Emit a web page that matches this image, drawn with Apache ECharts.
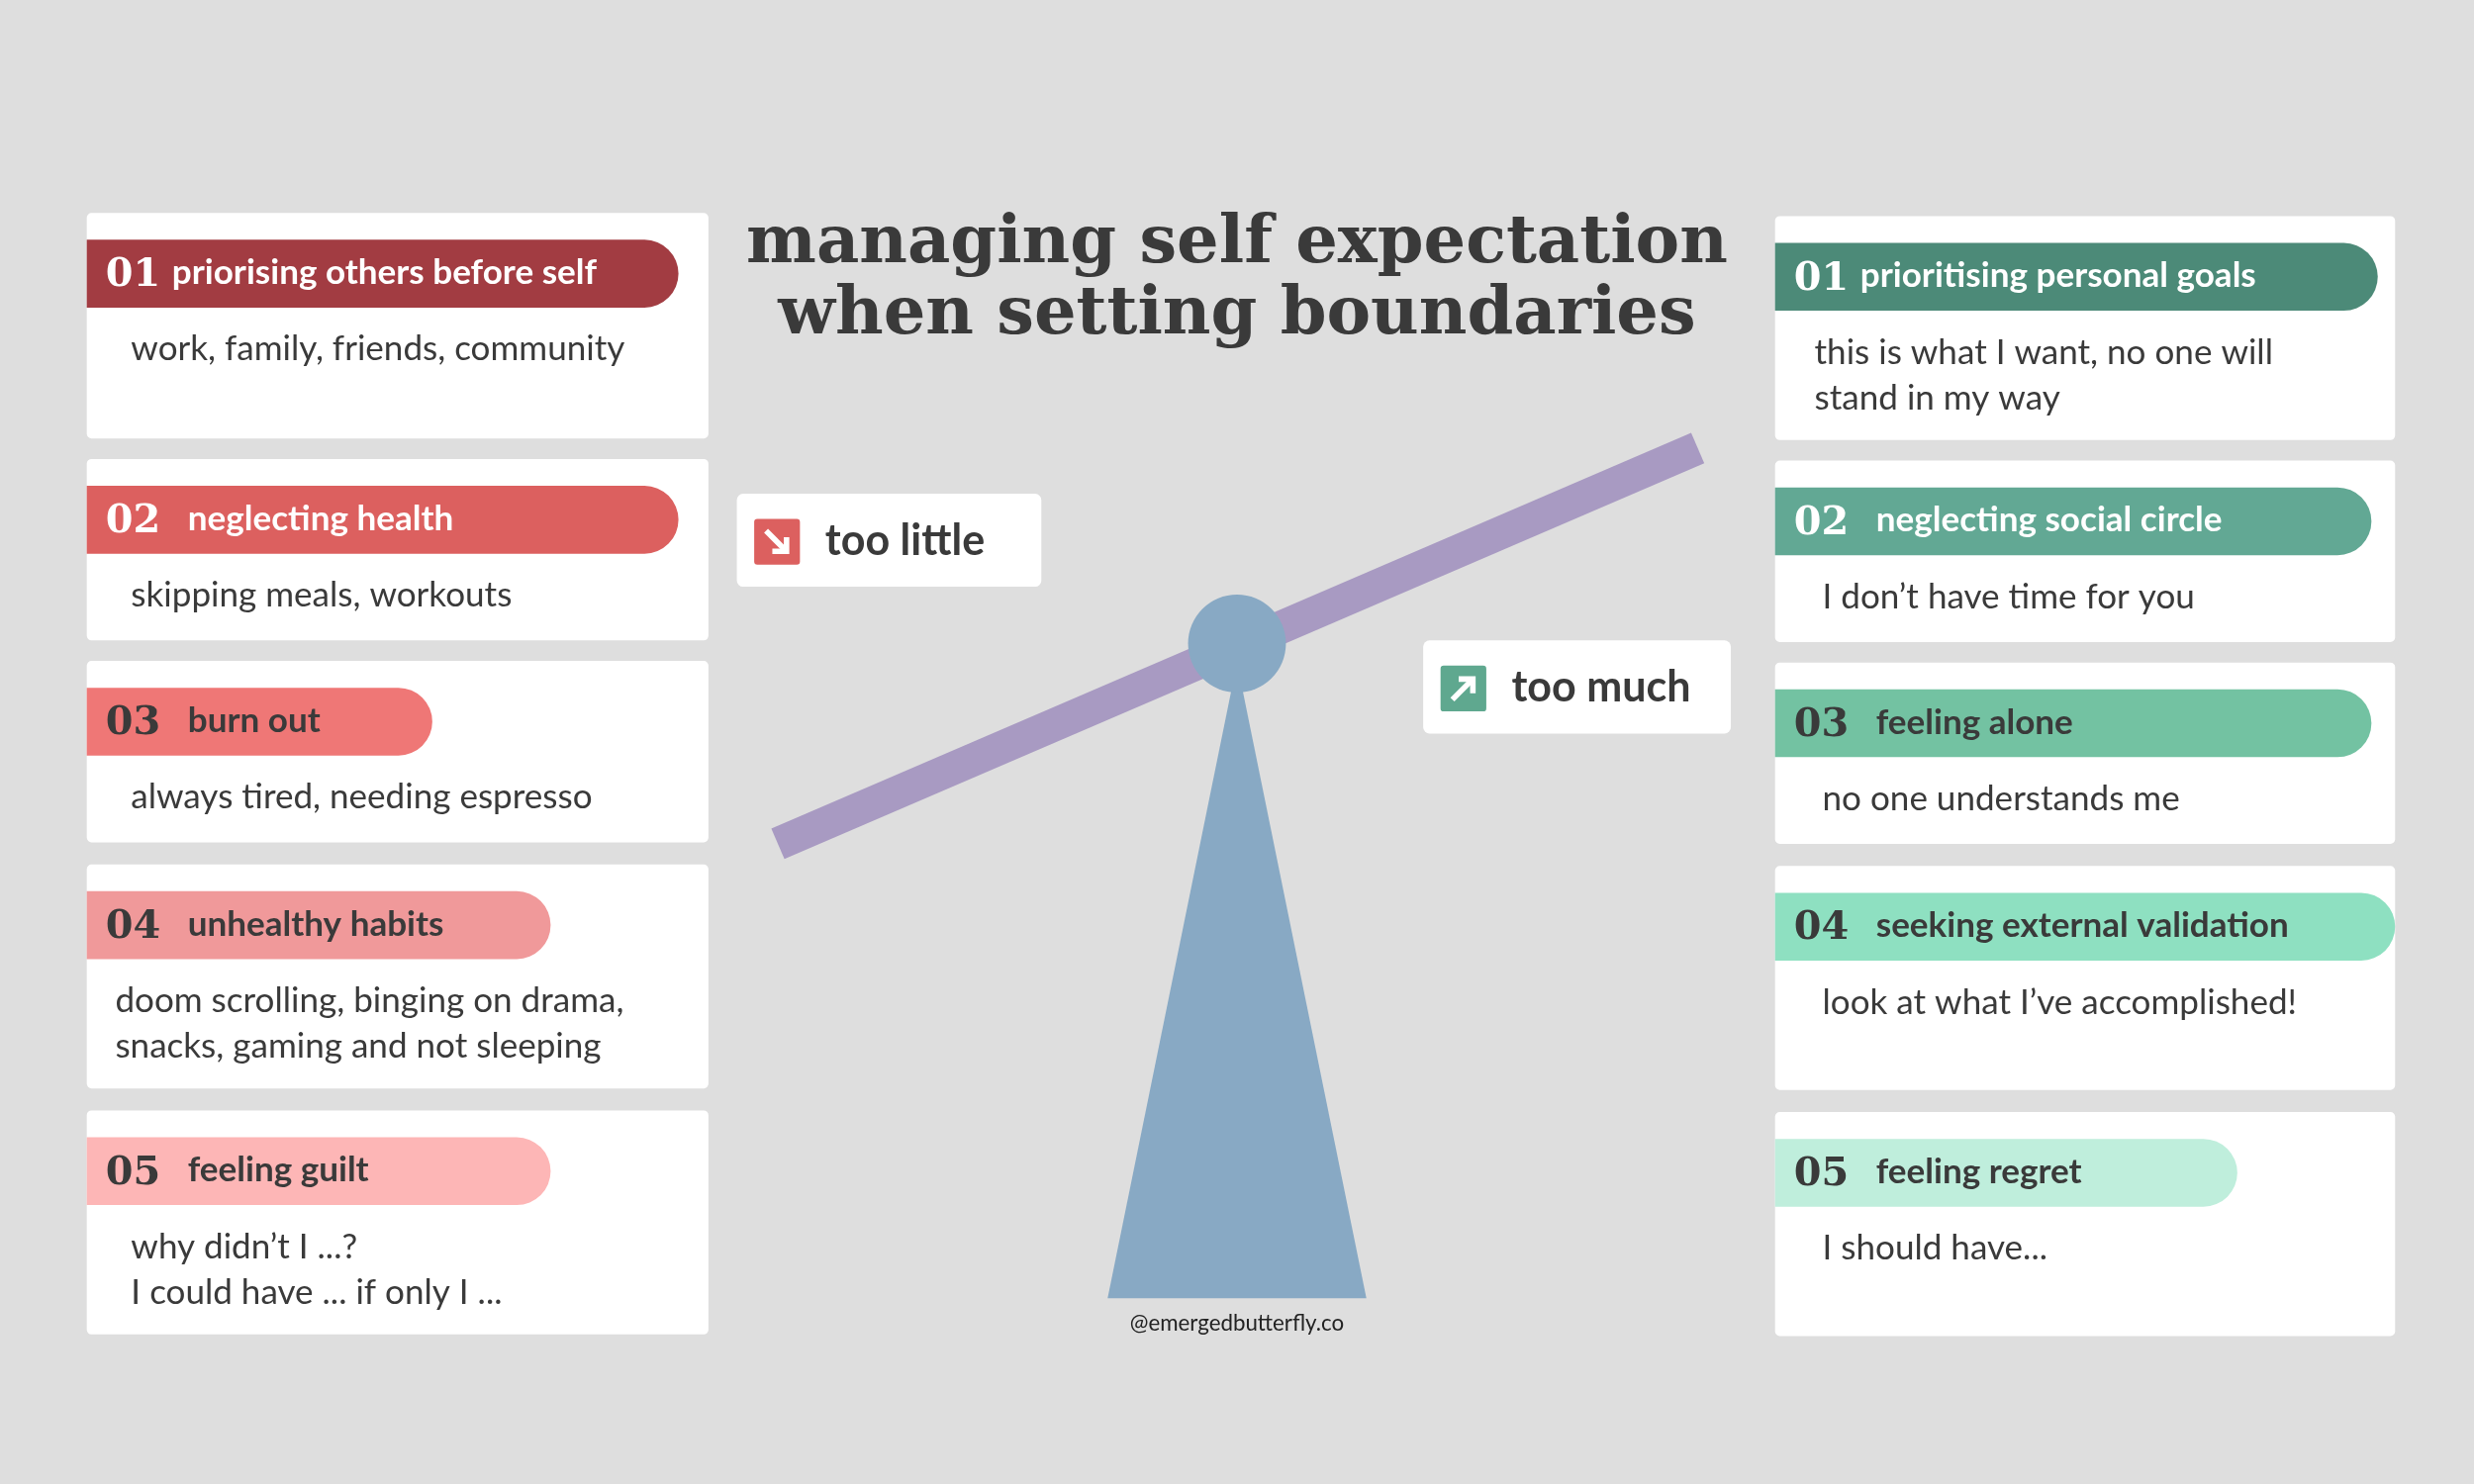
<!DOCTYPE html>
<html>
<head>
<meta charset="utf-8">
<script src="https://cdn.jsdelivr.net/npm/echarts@6/dist/echarts.min.js"></script>
<style>html,body{margin:0;padding:0;background:#dedede}#main{width:2500px;height:1500px}</style>
</head>
<body>
<div id="main"></div>
<script>
// layout was measured on a 1568px wide copy, scale up
var s = 2500 / 1568;

var leftNums = ['01', '02', '03', '04', '05'];
var leftTitles = ['priorising others before self', 'neglecting health', 'burn out', 'unhealthy habits', 'feeling guilt'];
var leftDescs = ['work, family, friends, community', 'skipping meals, workouts', 'always tired, needing espresso',
    'doom scrolling, binging on drama,\nsnacks, gaming and not sleeping', 'why didn\u2019t I ...?\nI could have ... if only I ...'];
var leftColors = ['#a23c42', '#dc605f', '#ef7776', '#f0999a', '#fdb6b6'];

var rightNums = ['01', '02', '03', '04', '05'];
var rightTitles = ['prioritising personal goals', 'neglecting social circle', 'feeling alone', 'seeking external validation', 'feeling regret'];
var rightDescs = ['this is what I want, no one will\nstand in my way', 'I don\u2019t have time for you', 'no one understands me',
    'look at what I\u2019ve accomplished!', 'I should have...'];
var rightColors = ['#4c8a78', '#62a894', '#73c2a2', '#8ee0c1', '#bfeedc'];

var leftCardY = [135, 291, 419, 548, 704];
var leftCardH = [143, 115, 115, 142, 142];
var leftPillEnd = [430, 430, 274, 349, 349];
var rightCardY = [137, 292, 420, 549, 705];
var rightCardH = [142, 115, 115, 142, 142];
var rightPillEnd = [1507, 1503, 1503, 1518, 1418];
var pillTextColor = ['#fff', '#fff', '#3a3a3a', '#3a3a3a', '#3a3a3a'];

var g = [];
function S(v) { return v * s; }

function cards(x0, x1, ys, hs, ends, nums, titles, descs, colors, descX) {
    for (var i = 0; i < ys.length; i++) {
        var y = ys[i];
        g.push({ type: 'rect', shape: { x: S(x0), y: S(y), width: S(x1 - x0), height: S(hs[i]), r: S(3) }, style: { fill: '#fff' } });
        g.push({ type: 'rect', shape: { x: S(x0), y: S(y + 17), width: S(ends[i] - x0), height: S(43), r: [0, S(22), S(22), 0] }, style: { fill: colors[i] } });
        g.push({ type: 'text', x: S(x0 + 12), y: S(y + 40), style: { text: nums[i], fill: pillTextColor[i], font: 'bold ' + S(25) + 'px "DejaVu Serif"', verticalAlign: 'middle' } });
        g.push({ type: 'text', x: S(x0 + (nums[i] === '01' ? 54 : 64)), y: S(y + 38), style: { text: titles[i], fill: pillTextColor[i], font: 'bold ' + S(22) + 'px Lato', verticalAlign: 'middle' } });
        g.push({ type: 'text', x: S(descX[i]), y: S(y + 72), style: { text: descs[i], fill: '#3a3a3a', font: S(22) + 'px Lato', lineHeight: S(29), verticalAlign: 'top' } });
    }
}
cards(55, 449, leftCardY, leftCardH, leftPillEnd, leftNums, leftTitles, leftDescs, leftColors, [83, 83, 83, 73, 83]);
cards(1125, 1518, rightCardY, rightCardH, rightPillEnd, rightNums, rightTitles, rightDescs, rightColors, [1150, 1155, 1155, 1155, 1155]);

// title
g.push({ type: 'text', x: S(784), y: S(178), style: { text: 'managing self expectation\nwhen setting boundaries', fill: '#3a3a3a', font: 'bold ' + S(42) + 'px "DejaVu Serif"', lineHeight: S(45), align: 'center', verticalAlign: 'middle' } });

// seesaw
g.push({ type: 'polygon', shape: { points: [[S(784), S(420)], [S(866), S(823)], [S(702), S(823)]] }, style: { fill: '#88a9c4' } });
g.push({ type: 'line', shape: { x1: S(493), y1: S(535), x2: S(1076), y2: S(284) }, style: { stroke: '#a89ac2', lineWidth: S(21) } });
g.push({ type: 'circle', shape: { cx: S(784), cy: S(408), r: S(31) }, style: { fill: '#88a9c4' } });
g.push({ type: 'text', x: S(784), y: S(839), style: { text: '@emergedbutterfly.co', fill: '#222', font: S(14) + 'px Lato', align: 'center', verticalAlign: 'middle' } });

// labels
function tag(x, y, w, text, color, down) {
    g.push({ type: 'rect', shape: { x: S(x), y: S(y), width: S(w), height: S(59), r: S(4) }, style: { fill: '#fff' } });
    g.push({ type: 'rect', shape: { x: S(x + 11), y: S(y + 16), width: S(29), height: S(29), r: S(2) }, style: { fill: color } });
    var cx = x + 25.5, cy = y + 30.5;
    var a = down ? [[cx - 7, cy - 7], [cx + 6, cy + 6]] : [[cx - 7, cy + 7], [cx + 6, cy - 6]];
    g.push({ type: 'polyline', shape: { points: [[S(a[0][0]), S(a[0][1])], [S(a[1][0]), S(a[1][1])]] }, style: { stroke: '#fff', lineWidth: S(3.5) } });
    var h = down ? [[cx + 6, cy - 3], [cx + 6, cy + 6], [cx - 3, cy + 6]] : [[cx - 3, cy - 6], [cx + 6, cy - 6], [cx + 6, cy + 3]];
    g.push({ type: 'polyline', shape: { points: h.map(function (p) { return [S(p[0]), S(p[1])]; }) }, style: { stroke: '#fff', lineWidth: S(3.5) } });
    g.push({ type: 'text', x: S(x + 56), y: S(y + 30), style: { text: text, fill: '#3a3a3a', font: 'bold ' + S(27) + 'px Lato', verticalAlign: 'middle' } });
}
tag(467, 313, 193, 'too little', '#dc605f', true);
tag(902, 406, 195, 'too much', '#5fa88f', false);

var myChart = echarts.init(document.getElementById('main'));
var option = { backgroundColor: '#dedede', graphic: { elements: g } };
option && myChart.setOption(option);
</script>
</body>
</html>
